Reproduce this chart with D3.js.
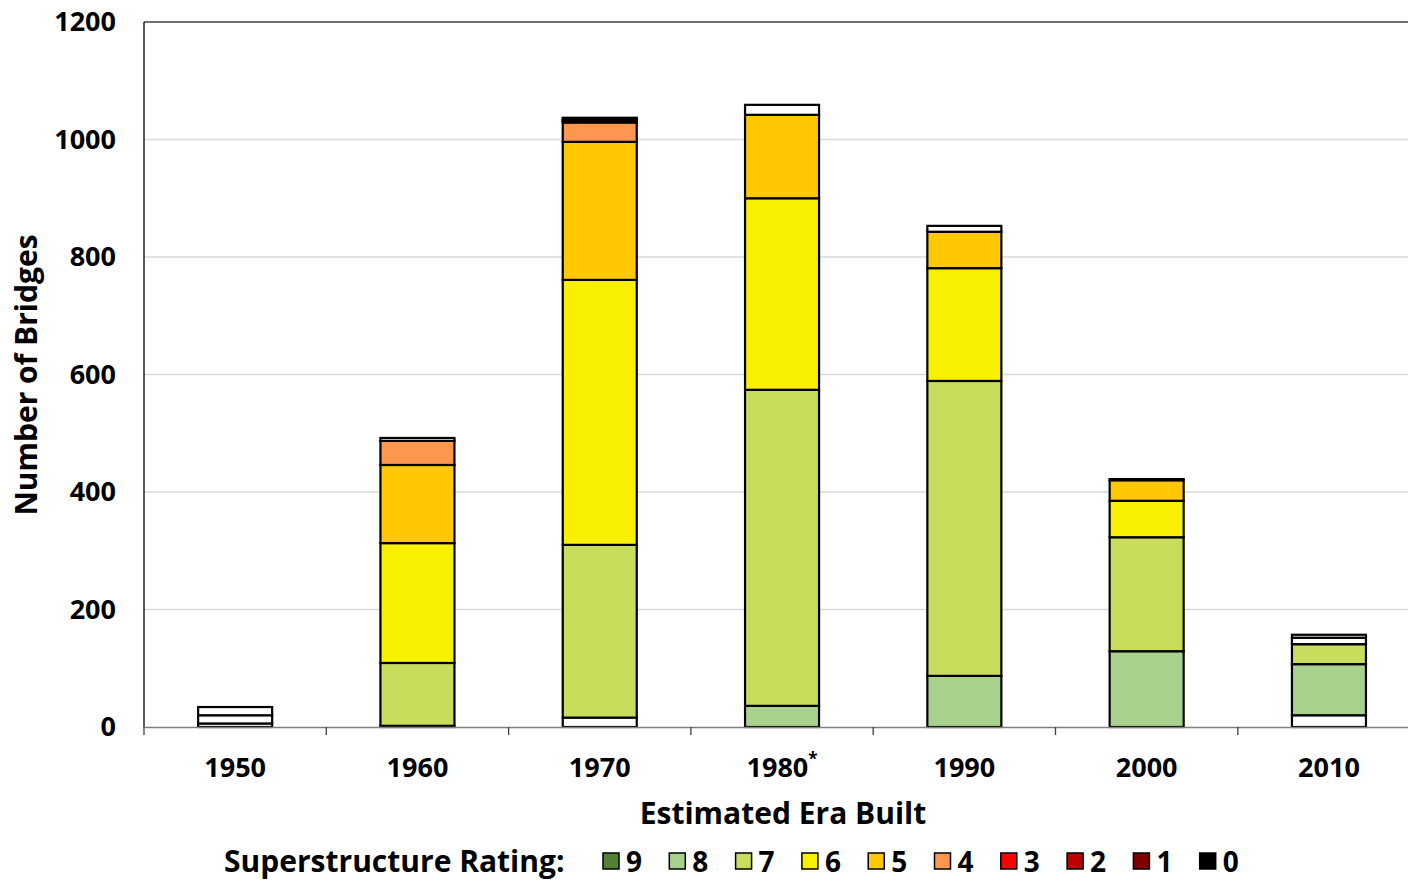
<!DOCTYPE html>
<html>
<head>
<meta charset="utf-8">
<script src="https://cdn.jsdelivr.net/npm/d3@7"></script>
<style>
  body { margin: 0; background: #fff; }
  svg { font-family: "Open Sans", Lato, sans-serif; font-weight: bold; }
</style>
</head>
<body>
<svg id="chart" width="1408" height="880"></svg>
<script>
const eras = ["1950", "1960", "1970", "1980", "1990", "2000", "2010"];
const eraLabels = ["1950", "1960", "1970", "1980*", "1990", "2000", "2010"];

// stack order, bottom to top; "Nb", "Na", "Nc" are unrated (white) parts
const keys = ["Nb", "9", "8", "7", "6", "5", "4", "3", "2", "1", "0", "Na", "Nc"];
const legendKeys = ["9", "8", "7", "6", "5", "4", "3", "2", "1", "0"];

const vNb = [6, 0, 16, 0, 0, 0, 20];
const v9 = [0, 0, 0, 0, 0, 0, 0];
const v8 = [0, 2, 0, 36, 87, 129, 87];
const v7 = [0, 107, 294, 538, 502, 194, 34];
const v6 = [0, 204, 451, 326, 192, 62, 0];
const v5 = [0, 133, 235, 142, 62, 35, 0];
const v4 = [0, 41, 33, 0, 0, 0, 0];
const v3 = [0, 0, 2, 0, 0, 0, 0];
const v2 = [0, 0, 2, 0, 0, 0, 0];
const v1 = [0, 0, 2, 0, 0, 0, 0];
const v0 = [0, 0, 2, 0, 0, 0, 0];
const vNa = [14, 5, 0, 17, 10, 2, 11];
const vNc = [14, 0, 0, 0, 0, 0, 5];

const yTicks = [0, 200, 400, 600, 800, 1000, 1200];

const colors = {
  Nb: "#ffffff", "9": "#548235", "8": "#a9d18e", "7": "#cadc5c", "6": "#f8f000",
  "5": "#ffc800", "4": "#fd974e", "3": "#ff0000", "2": "#c00000", "1": "#7f0000",
  "0": "#000000", Na: "#ffffff", Nc: "#ffffff"
};

const series = { Nb: vNb, "9": v9, "8": v8, "7": v7, "6": v6, "5": v5, "4": v4,
  "3": v3, "2": v2, "1": v1, "0": v0, Na: vNa, Nc: vNc };

const rows = eras.map((era, i) => {
  const r = { era };
  keys.forEach(k => r[k] = series[k][i]);
  return r;
});

const svg = d3.select("#chart");
const plotLeft = 144, plotTop = 22, plotBottom = 727;
const step = 182.3;
const plotRight = plotLeft + step * eras.length;

const x = d3.scaleBand().domain(eras).range([plotLeft, plotRight])
  .paddingInner(0.594).paddingOuter(0.297);
const y = d3.scaleLinear().domain([0, 1200]).range([plotBottom, plotTop]);

/* ---------- grid ---------- */
svg.append("g").selectAll("line")
  .data(yTicks.filter(t => t > 0 && t < 1200))
  .join("line")
  .attr("x1", plotLeft).attr("x2", 1408)
  .attr("y1", d => y(d)).attr("y2", d => y(d))
  .attr("stroke", "#d9d9d9").attr("stroke-width", 1.3);

svg.append("line")
  .attr("x1", plotLeft).attr("x2", 1408).attr("y1", y(1200)).attr("y2", y(1200))
  .attr("stroke", "#404040").attr("stroke-width", 1.3);

/* ---------- bars ---------- */
const stacked = d3.stack().keys(keys)(rows);

svg.append("g").selectAll("g")
  .data(stacked)
  .join("g")
  .attr("fill", d => colors[d.key])
  .selectAll("rect")
  .data(d => d.filter(s => s[1] - s[0] > 0))
  .join("rect")
  .attr("x", d => x(d.data.era))
  .attr("width", x.bandwidth())
  .attr("y", d => y(d[1]))
  .attr("height", d => y(d[0]) - y(d[1]))
  .attr("stroke", "#000")
  .attr("stroke-width", 2.2);

/* ---------- axes ---------- */
svg.append("line")
  .attr("x1", plotLeft).attr("x2", plotLeft).attr("y1", plotTop).attr("y2", plotBottom)
  .attr("stroke", "#000").attr("stroke-width", 1.3);

const xAxis = svg.append("g").attr("transform", `translate(0,${plotBottom})`)
  .call(d3.axisBottom(x).tickValues([]).tickSizeOuter(0));
xAxis.select(".domain").attr("stroke", "#808080").attr("stroke-width", 1.3);

// category boundary ticks
xAxis.selectAll("line.sep")
  .data(d3.range(eras.length + 1))
  .join("line")
  .attr("class", "sep")
  .attr("x1", i => plotLeft + i * step).attr("x2", i => plotLeft + i * step)
  .attr("y1", 0).attr("y2", 8)
  .attr("stroke", "#404040").attr("stroke-width", 1.3);

svg.append("g").selectAll("text")
  .data(eras)
  .join("text")
  .attr("x", d => x(d) + x.bandwidth() / 2)
  .attr("y", 777)
  .attr("text-anchor", "middle")
  .attr("font-size", 27)
  .each(function(d, i) {
    const t = d3.select(this);
    t.append("tspan").text(d);
    if (eraLabels[i].endsWith("*")) {
      t.append("tspan").attr("dy", -12).attr("font-size", 17).text("*");
    }
  });

svg.append("g").selectAll("text")
  .data(yTicks)
  .join("text")
  .attr("x", 116).attr("y", d => y(d) + 9)
  .attr("text-anchor", "end")
  .attr("font-size", 27)
  .text(d => d);

svg.append("text")
  .attr("x", 783).attr("y", 824)
  .attr("text-anchor", "middle")
  .attr("font-size", 30)
  .text("Estimated Era Built");

svg.append("text")
  .attr("transform", "rotate(-90)")
  .attr("x", -375).attr("y", 37)
  .attr("text-anchor", "middle")
  .attr("font-size", 30)
  .text("Number of Bridges");

/* ---------- legend ---------- */
svg.append("text")
  .attr("x", 224).attr("y", 872)
  .attr("font-size", 30)
  .text("Superstructure  Rating:");

const leg = svg.append("g").selectAll("g")
  .data(legendKeys)
  .join("g")
  .attr("transform", (d, i) => `translate(${603 + i * 66.3},853)`);

leg.append("rect")
  .attr("width", 16).attr("height", 16)
  .attr("fill", d => colors[d])
  .attr("stroke", "#000").attr("stroke-width", 1.5);

leg.append("text")
  .attr("x", 23).attr("y", 19)
  .attr("font-size", 28)
  .text(d => d);
</script>
</body>
</html>
